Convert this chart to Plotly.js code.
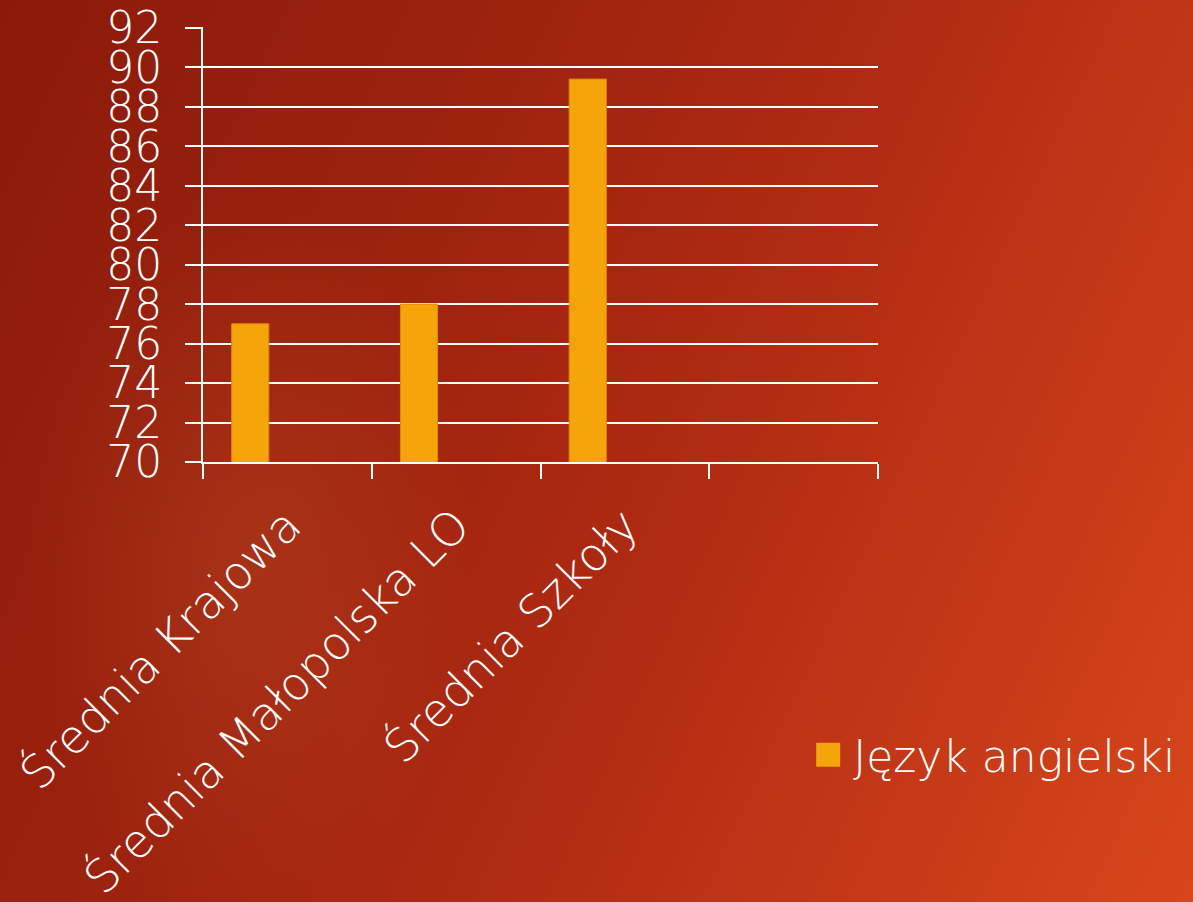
<!DOCTYPE html>
<html>
<head>
<meta charset="utf-8">
<script src="https://cdn.plot.ly/plotly-3.0.1.min.js"></script>
<style>
html,body{margin:0;padding:0;width:1193px;height:902px;overflow:hidden;}
body{background:
 radial-gradient(ellipse 320px 520px at 250px 560px, rgba(190,80,40,0.35), rgba(190,80,40,0) 70%),
 linear-gradient(115deg, #8c1a0a 0%, #9b220e 30%, #ae2a12 55%, #c43817 78%, #d8461b 100%);}
#chart{width:1193px;height:902px;}
</style>
</head>
<body>
<div id="chart"></div>
<script>
const categories = ["Średnia Krajowa", "Średnia Małopolska LO", "Średnia Szkoły"];
const seriesName = "Język angielski";
const values = [77, 78, 89.4];
const yTicks = [70,72,74,76,78,80,82,84,86,88,90,92];

const xpos = categories.map((c,i)=>i);
const font = "'DejaVu Sans', sans-serif";

const trace = {
  type: 'bar',
  x: xpos,
  y: values,
  name: seriesName,
  width: 0.22,
  offset: -0.33,
  marker: {color: '#f5a40a', line: {color: '#e08a0a', width: 1}},
  showlegend: true,
  hoverinfo: 'x+y'
};

const layout = {
  width: 1193, height: 902,
  paper_bgcolor: 'rgba(0,0,0,0)',
  plot_bgcolor: 'rgba(0,0,0,0)',
  margin: {l: 203, r: 313, t: 27, b: 440},
  font: {family: font, color: '#ffffff', weight: 200},
  showlegend: true,
  xaxis: {
    range: [-0.5, 3.5],
    tickvals: xpos,
    ticktext: categories,
    tickangle: -45,
    ticks: '',
    tickfont: {size: 46, color: '#ffffff', family: font, weight: 200},
    ticklabelstandoff: 16,
    ticklabeloverflow: 'allow',
    showgrid: false,
    showline: true, linecolor: '#ffffff', linewidth: 2,
    zeroline: false,
    minor: {tickvals: [-0.5, 0.5, 1.5, 2.5, 3.5], ticks: 'outside', ticklen: 15, tickwidth: 2, tickcolor: '#ffffff', showgrid: false}
  },
  yaxis: {
    range: [70, 92.04],
    tickvals: yTicks,
    ticks: 'outside', ticklen: 16, tickwidth: 2, tickcolor: '#ffffff',
    tickfont: {size: 44, color: '#ffffff', family: font, weight: 200},
    ticklabelstandoff: 14,
    ticklabeloverflow: 'allow',
    showgrid: true, gridcolor: '#ffffff', gridwidth: 2,
    showline: true, linecolor: '#ffffff', linewidth: 2,
    zeroline: false
  },
  legend: {
    x: 0.904, xanchor: 'left',
    y: -0.674, yanchor: 'middle',
    bgcolor: 'rgba(0,0,0,0)',
    font: {size: 44, color: '#ffffff', family: font, weight: 200},
    itemwidth: 30
  }
};

Plotly.newPlot('chart', [trace], layout, {staticPlot: true, displayModeBar: false}).then(gd => {
  gd.querySelectorAll('.legend .legendpoints path').forEach(p => {
    p.setAttribute('d', 'M7,12H-17V-12H7Z');
    p.style.strokeWidth = '0px';
  });
});
</script>
</body>
</html>
